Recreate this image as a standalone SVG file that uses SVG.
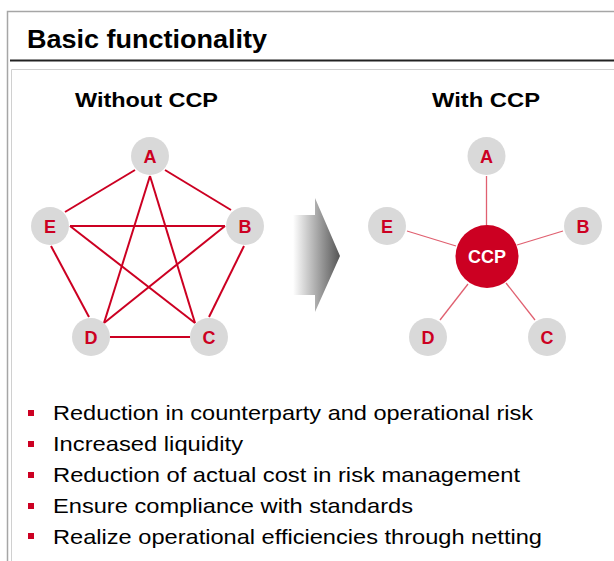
<svg xmlns="http://www.w3.org/2000/svg" width="614" height="561" viewBox="0 0 614 561">
<defs>
<linearGradient id="arrowGrad" x1="0" y1="0" x2="1" y2="0">
<stop offset="0" stop-color="#ffffff"/>
<stop offset="1" stop-color="#555555"/>
</linearGradient>
<style>
.node{fill:#d9d9d9}
.lbl{font-family:"Liberation Sans",Arial,sans-serif;font-weight:bold;font-size:18px;fill:#cc0022;text-anchor:middle}
.mesh{stroke:#cc0022;stroke-width:2;fill:none}
.spoke{stroke:#e06070;stroke-width:1.3;fill:none}
.head{font-family:"Liberation Sans",Arial,sans-serif;font-weight:bold;font-size:21px;fill:#000}
.bul{font-family:"Liberation Sans",Arial,sans-serif;font-size:21px;fill:#000}
.sq{fill:#cc0022}
</style>
</defs>
<rect width="614" height="561" fill="#fff"/>
<path d="M7.5 561 V11.5 H614" fill="none" stroke="#a6a6a6" stroke-width="1.5"/>
<text x="27" y="48" font-family="'Liberation Sans',Arial,sans-serif" font-weight="bold" font-size="25" fill="#000" textLength="240" lengthAdjust="spacingAndGlyphs">Basic functionality</text>
<line x1="10" y1="60.5" x2="614" y2="60.5" stroke="#222" stroke-width="2"/>
<path d="M11.5 561 V69.5 H614" fill="none" stroke="#d0d0d0" stroke-width="1"/>
<text class="head" x="75" y="107" textLength="143" lengthAdjust="spacingAndGlyphs">Without CCP</text>
<text class="head" x="432" y="107" textLength="108" lengthAdjust="spacingAndGlyphs">With CCP</text>
<g id="connectors">
<line class="mesh" x1="135" y1="170" x2="65" y2="212"/>
<line class="mesh" x1="165" y1="170" x2="231" y2="210"/>
<line class="mesh" x1="70" y1="226" x2="225" y2="226"/>
<line class="mesh" x1="70" y1="226" x2="195" y2="323"/>
<line class="mesh" x1="150" y1="176" x2="195" y2="323"/>
<line class="mesh" x1="150" y1="176" x2="104" y2="323"/>
<line class="mesh" x1="225" y1="226" x2="104" y2="323"/>
<line class="mesh" x1="51" y1="246" x2="89" y2="317"/>
<line class="mesh" x1="244" y1="246" x2="209" y2="317"/>
<line class="mesh" x1="110" y1="337" x2="190" y2="337"/>
<line class="spoke" x1="486.5" y1="176" x2="486.5" y2="225"/>
<line class="spoke" x1="407" y1="231" x2="456" y2="246"/>
<line class="spoke" x1="563" y1="231" x2="517" y2="245"/>
<line class="spoke" x1="440" y1="320" x2="468" y2="284"/>
<line class="spoke" x1="535" y1="320" x2="506" y2="283"/>
</g>
<path id="arrow" d="M293 215 H315 V198 L340 256 L315 312 V295 H293 Z" fill="url(#arrowGrad)"/>
<g id="L-A"><circle class="node" cx="150" cy="156" r="19"/><text class="lbl" x="150" y="162.5">A</text></g>
<g id="L-B"><circle class="node" cx="245" cy="226" r="19"/><text class="lbl" x="245" y="232.5">B</text></g>
<g id="L-C"><circle class="node" cx="209" cy="337" r="19"/><text class="lbl" x="209" y="343.5">C</text></g>
<g id="L-D"><circle class="node" cx="91" cy="337" r="19"/><text class="lbl" x="91" y="343.5">D</text></g>
<g id="L-E"><circle class="node" cx="50" cy="226" r="19"/><text class="lbl" x="50" y="232.5">E</text></g>
<g id="R-A"><circle class="node" cx="486.5" cy="156" r="19"/><text class="lbl" x="486.5" y="162.5">A</text></g>
<g id="R-B"><circle class="node" cx="583" cy="226" r="19"/><text class="lbl" x="583" y="232.5">B</text></g>
<g id="R-C"><circle class="node" cx="547" cy="337" r="19"/><text class="lbl" x="547" y="343.5">C</text></g>
<g id="R-D"><circle class="node" cx="428" cy="337" r="19"/><text class="lbl" x="428" y="343.5">D</text></g>
<g id="R-E"><circle class="node" cx="387" cy="226" r="19"/><text class="lbl" x="387" y="232.5">E</text></g>
<g id="R-CCP"><circle cx="487" cy="256.5" r="31.5" fill="#cc0022"/><text class="lbl" x="487" y="263" style="fill:#fff">CCP</text></g>
<g id="bullets">
<rect class="sq" x="28" y="410" width="6" height="6"/>
<text class="bul" x="53" y="420" textLength="480" lengthAdjust="spacingAndGlyphs">Reduction in counterparty and operational risk</text>
<rect class="sq" x="28" y="441" width="6" height="6"/>
<text class="bul" x="53" y="451" textLength="190" lengthAdjust="spacingAndGlyphs">Increased liquidity</text>
<rect class="sq" x="28" y="472" width="6" height="6"/>
<text class="bul" x="53" y="482" textLength="467" lengthAdjust="spacingAndGlyphs">Reduction of actual cost in risk management</text>
<rect class="sq" x="28" y="503" width="6" height="6"/>
<text class="bul" x="53" y="513" textLength="360" lengthAdjust="spacingAndGlyphs">Ensure compliance with standards</text>
<rect class="sq" x="28" y="533" width="6" height="6"/>
<text class="bul" x="53" y="543.5" textLength="489" lengthAdjust="spacingAndGlyphs">Realize operational efficiencies through netting</text>
</g>
</svg>
